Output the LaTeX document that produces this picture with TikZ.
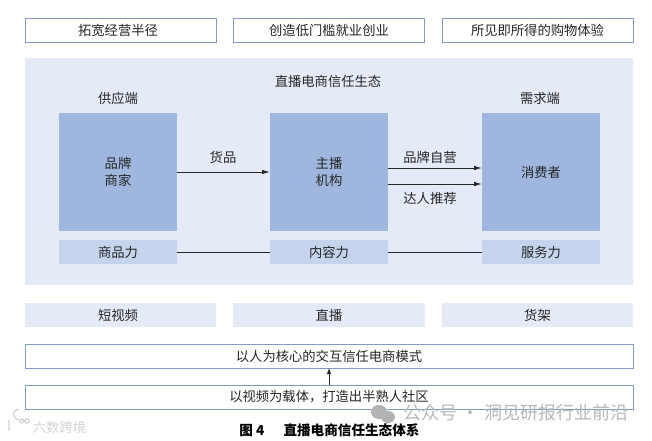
\documentclass[tikz,border=0pt]{standalone}
\usepackage{fontspec}
\setmainfont{Noto Sans CJK SC}
\usetikzlibrary{arrows.meta,positioning}
\definecolor{panelc}{HTML}{E4EAF6}
\definecolor{mainc}{HTML}{9FB7DE}
\definecolor{lowc}{HTML}{C5D4EC}
\definecolor{linec}{HTML}{7F9BC4}
\definecolor{txtc}{HTML}{262626}
\tikzset{
  x=1pt,y=-1pt,
  every node/.style={inner sep=0pt,outer sep=0pt,text=txtc,font=\fontsize{13.3}{17}\selectfont,align=center},
  bx/.style 2 args={minimum width=#1 pt,minimum height=#2 pt},
  outlinebox/.style={draw=linec,line width=0.9pt,fill=white},
  softbox/.style={fill=panelc},
  mainbox/.style={fill=mainc},
  lowbox/.style={fill=lowc},
  flow/.style={draw=black!85,line width=0.9pt,-{Latex[length=8pt,width=4.5pt]}},
  link/.style={draw=black!85,line width=0.9pt},
  mark text/.style={text=black!28,font=\fontsize{18}{20}\selectfont},
}
\begin{document}
\begin{tikzpicture}
\useasboundingbox (0,0) rectangle (652,440);
% top boxes
\node[outlinebox,bx={191}{24}] (t1) at (120.5,30.5) {拓宽经营半径\hspace{5pt}};
\node[outlinebox,bx={191}{24}] (t2) at (329,30.5) {创造低门槛就业创业};
\node[outlinebox,bx={191}{24}] (t3) at (537.5,30.5) {所见即所得的购物体验};
% panel
\node[softbox,bx={608}{227}] (panel) at (329,171.5) {};
\node (title) at (328,81) {直播电商信任生态};
\node (sup) at (118,98) {供应端};
\node (dem) at (540,98) {需求端};
% main boxes
\node[mainbox,bx={118}{118}] (brand) at (118,172) {品牌\\商家};
\node[mainbox,bx={118}{118}] (host) at (329,172) {主播\\机构};
\node[mainbox,bx={118}{118}] (cons) at (541,172) {消费者};
% lower boxes
\node[lowbox,bx={118}{24}] (p1) at (118,252) {商品力};
\node[lowbox,bx={118}{24}] (p2) at (329,252) {内容力};
\node[lowbox,bx={118}{24}] (p3) at (541,252) {服务力};
% connectors
\draw[flow] (brand.east) -- (host.west);
\node (goods) at (223,157) {货品};
\draw[flow] ([yshift=4pt]host.east) -- ([yshift=4pt]cons.west);
\draw[flow] ([yshift=-12pt]host.east) -- ([yshift=-12pt]cons.west);
\node (self) at (430,157) {品牌自营};
\node (kol) at (430,198) {达人推荐};
\draw[link] (p1) -- (p2);
\draw[link] (p2) -- (p3);
% row
\node[softbox,bx={191}{24}] (r1) at (120.5,315) {短视频\hspace{5pt}};
\node[softbox,bx={192}{24}] (r2) at (329,315) {直播};
\node[softbox,bx={191}{24}] (r3) at (537.5,315) {货架};
% bottom
\node[outlinebox,bx={608}{24}] (b1) at (329,356) {以人为核心的交互信任电商模式};
\node[outlinebox,bx={608}{24}] (b2) at (329,397) {以视频为载体，打造出半熟人社区};
\draw[flow,-{Latex[length=6pt,width=4.5pt]}] (b2.north) -- (b1.south);
% caption
\node[text=black,font=\fontsize{13.6}{15}\selectfont\bfseries] (cap) at (329.5,430.5) {图 4\hspace{1.4em}直播电商信任生态体系};
% watermarks
\fill[black!30] (379,412) ellipse [x radius=8, y radius=7];
\fill[black!30] (388,417) ellipse [x radius=7, y radius=6];
\node[mark text] (wm) at (516,413) {公众号 · 洞见研报行业前沿};
\node[text=black!18] (wl) at (59.5,427) {六数跨境};
\draw[black!18,line width=1.2pt] (9,420) -- (9,431) (19,420) arc (90:270:5.5) (22,421) circle (2) (27,421) circle (2);
\end{tikzpicture}
\end{document}
